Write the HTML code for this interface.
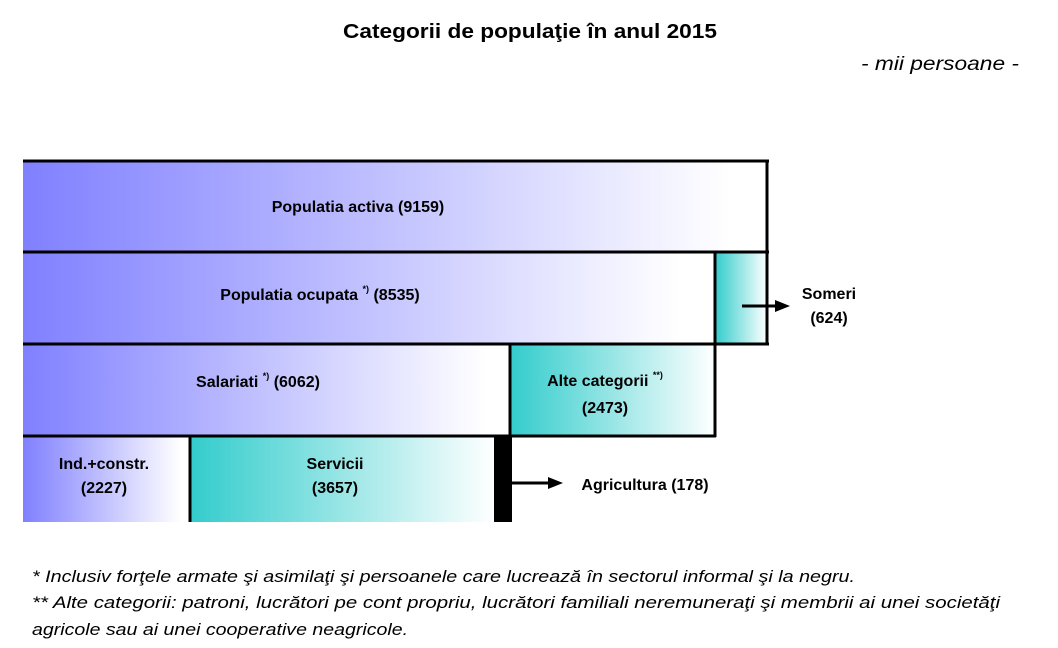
<!DOCTYPE html>
<html><head><meta charset="utf-8"><style>body{margin:0;background:#fff}svg{display:block}</style></head>
<body>
<svg width="1058" height="648" xmlns="http://www.w3.org/2000/svg" font-family="Liberation Sans, Arial, sans-serif">
<defs>
<linearGradient id="b1" x1="0" x2="1"><stop offset="0" stop-color="#8080ff"/><stop offset="0.95" stop-color="#ffffff"/></linearGradient>
<linearGradient id="t1" x1="0" x2="1"><stop offset="0" stop-color="#33cccc"/><stop offset="1" stop-color="#ffffff"/></linearGradient>
</defs>
<text x="530" y="38" text-anchor="middle" font-weight="bold" font-size="20" textLength="374" lengthAdjust="spacingAndGlyphs">Categorii de populaţie în anul 2015</text>
<text x="1019" y="70" text-anchor="end" font-style="italic" font-size="19" textLength="158" lengthAdjust="spacingAndGlyphs">- mii persoane -</text>
<!-- rows -->
<rect x="23" y="161" width="745" height="91" fill="url(#b1)"/>
<rect x="23" y="252" width="692" height="92" fill="url(#b1)"/>
<rect x="715" y="252" width="52" height="92" fill="url(#t1)"/>
<rect x="23" y="344" width="487" height="92" fill="url(#b1)"/>
<rect x="510" y="344" width="205" height="92" fill="url(#t1)"/>
<rect x="23" y="436" width="166" height="86" fill="url(#b1)"/>
<rect x="190" y="436" width="304" height="86" fill="url(#t1)"/>
<rect x="494" y="436" width="18" height="86" fill="#000"/>
<g stroke="#000" stroke-width="3" fill="none">
<line x1="23" y1="161" x2="769" y2="161"/>
<line x1="23" y1="252" x2="769" y2="252"/>
<line x1="23" y1="344" x2="769" y2="344"/>
<line x1="767" y1="160" x2="767" y2="345"/>
<line x1="715" y1="252" x2="715" y2="437"/>
<line x1="510" y1="344" x2="510" y2="436"/>
<line x1="23" y1="436" x2="716" y2="436"/>
<line x1="190" y1="436" x2="190" y2="522"/>
<line x1="742" y1="306" x2="775" y2="306"/>
<line x1="512" y1="483" x2="548" y2="483"/>
</g>
<polygon points="775,300 790,306 775,312" fill="#000"/>
<polygon points="548,477 563,483 548,489" fill="#000"/>
<g font-weight="bold" font-size="16" fill="#000" text-anchor="middle">
<text x="358" y="212">Populatia activa (9159)</text>
<text x="320" y="300">Populatia ocupata <tspan font-size="9" dy="-8">*)</tspan><tspan dy="8"> (8535)</tspan></text>
<text x="258" y="387">Salariati <tspan font-size="9" dy="-8">*)</tspan><tspan dy="8"> (6062)</tspan></text>
<text x="605" y="386">Alte categorii <tspan font-size="9" dy="-8">**)</tspan></text>
<text x="605" y="413">(2473)</text>
<text x="104" y="469">Ind.+constr.</text>
<text x="104" y="493">(2227)</text>
<text x="335" y="469">Servicii</text>
<text x="335" y="493">(3657)</text>
<text x="829" y="299">Someri</text>
<text x="829" y="323">(624)</text>
<text x="645" y="490">Agricultura (178)</text>
</g>
<g font-style="italic" font-size="17" fill="#000">
<text x="32" y="582" textLength="823" lengthAdjust="spacingAndGlyphs">* Inclusiv forţele armate şi asimilaţi şi persoanele care lucrează în sectorul informal şi la negru.</text>
<text x="32" y="608" textLength="968" lengthAdjust="spacingAndGlyphs">**  Alte categorii: patroni, lucrători pe cont propriu, lucrători familiali neremuneraţi şi membrii ai unei societăţi</text>
<text x="32" y="635" textLength="376" lengthAdjust="spacingAndGlyphs">agricole sau ai unei cooperative neagricole.</text>
</g>
</svg>
</body></html>
